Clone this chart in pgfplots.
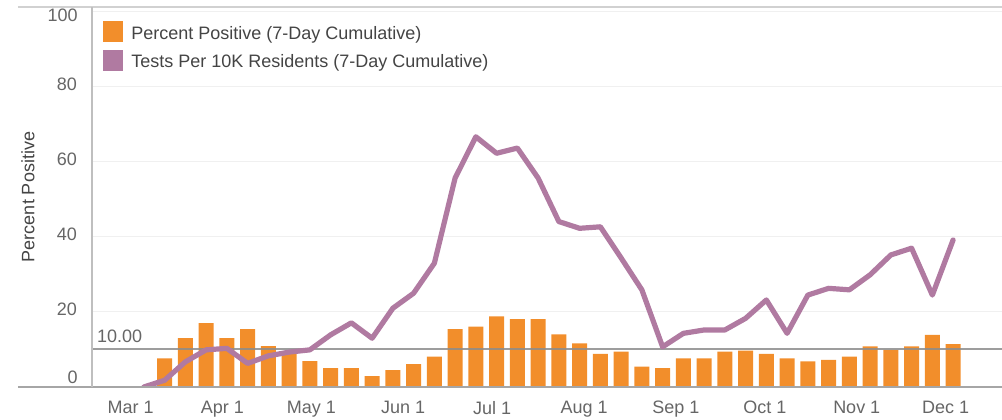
\documentclass[border=0pt]{standalone}
\usepackage{fontspec}
\setmainfont{Liberation Sans}
\usepackage{pgfplots}
\usepackage{pgfplotstable}
\pgfplotsset{compat=1.18}
\definecolor{barorange}{HTML}{F28E2B}
\definecolor{linepurple}{HTML}{B07AA1}
\definecolor{tickgray}{HTML}{666666}
\definecolor{legendgray}{HTML}{444444}

\pgfplotstableread{
day val
11.5 7.6
18.5 13.0
25.5 17.0
32.5 13.0
39.5 15.4
46.5 10.9
53.5 9.2
60.5 6.9
67.5 5.0
74.5 5.0
81.5 2.9
88.5 4.5
95.5 6.1
102.5 8.1
109.5 15.4
116.5 16.1
123.5 18.8
130.5 18.1
137.5 18.1
144.5 14.0
151.5 11.6
158.5 8.8
165.5 9.4
172.5 5.4
179.5 5.0
186.5 7.6
193.5 7.6
200.5 9.4
207.5 9.7
214.5 8.8
221.5 7.6
228.5 6.8
235.5 7.2
242.5 8.1
249.5 10.8
256.5 9.9
263.5 10.8
270.5 13.9
277.5 11.4
}\positive

\pgfplotstableread{
day val
4.5 0
11.5 1.8
18.5 6.7
25.5 9.9
32.5 10.3
39.5 6.3
46.5 8.3
53.5 9.3
60.5 9.9
67.5 13.9
74.5 17.1
81.5 13.0
88.5 21.0
95.5 25.0
102.5 33.0
109.5 55.7
116.5 66.7
123.5 62.3
130.5 63.7
137.5 55.7
144.5 44.1
151.5 42.3
158.5 42.7
165.5 34.4
172.5 25.9
179.5 10.7
186.5 14.3
193.5 15.2
200.5 15.2
207.5 18.3
214.5 23.2
221.5 14.3
228.5 24.5
235.5 26.3
242.5 25.9
249.5 29.9
256.5 35.2
263.5 37.0
270.5 24.5
277.5 39.2
}\tests

\begin{document}
\begin{tikzpicture}
\begin{axis}[
  name=ax,
  scale only axis,
  width=455pt, height=190pt,
  xmin=-13, xmax=294, ymin=0, ymax=101.3,
  clip mode=individual,
  axis line style={draw=none},
  xtick={0,31,61,92,122,153,184,214,245,275},
  xticklabels={Mar 1,Apr 1,May 1,Jun 1,Jul 1,Aug 1,Sep 1,Oct 1,Nov 1,Dec 1},
  ytick={0,20,40,60,80,100},
  yticklabels={,20,40,60,80,},
  major tick length=0pt,
  ymajorgrids,
  grid style={color=black!6, line width=0.5pt},
  tick label style={font=\fontsize{9}{10}\selectfont, text=tickgray},
  xticklabel style={yshift=-3.5pt},
  yticklabel style={xshift=-4pt, yshift=1.5pt},
  /pgf/number format/assume math mode=true,
  ylabel={Percent Positive},
  ylabel style={at={(axis description cs:-0.0703,0.5)}, anchor=center, rotate=0, font=\fontsize{9}{10}\selectfont, text=legendgray},
  legend style={at={(axis description cs:0,1)}, anchor=north west, xshift=5.5pt, yshift=-7pt,
    draw=none, fill=none, font=\fontsize{9}{10}\selectfont, text=legendgray, row sep=2pt,
    inner sep=0pt, /tikz/every odd column/.append style={column sep=2pt}},
  legend cell align=left,
]
\addplot[ybar, bar width=7.5pt, fill=barorange, draw=none,
  legend image code/.code={\path[fill=barorange, draw=none] (0pt,-4pt) rectangle (10pt,6.3pt);}]
  table[x=day, y=val] {\positive};
\addlegendentry{Percent Positive (7-Day Cumulative)}
\addplot[color=black!45, line width=1pt, opacity=0.85, forget plot] coordinates {(-13,10) (294,10)};
\addplot[color=linepurple, line width=2.6pt, line join=round, line cap=round,
  legend image code/.code={\path[fill=linepurple, draw=none] (0pt,-4pt) rectangle (10pt,6.3pt);}]
  table[x=day, y=val] {\tests};
\addlegendentry{Tests Per 10K Residents (7-Day Cumulative)}
\node[anchor=south west, inner sep=0pt, xshift=2.3pt, yshift=3pt, font=\fontsize{9}{10}\selectfont, text=tickgray] at (axis cs:-13,10) {10.00};
\node[anchor=east, inner sep=0pt, xshift=-7pt, yshift=5pt, font=\fontsize{9}{10}\selectfont, text=tickgray] at (axis cs:-13,0) {0};
\node[anchor=east, inner sep=0pt, xshift=-7pt, yshift=-1.5pt, font=\fontsize{9}{10}\selectfont, text=tickgray] at (axis cs:-13,100) {100};
\end{axis}
\draw[color=black!35, line width=0.75pt] ([xshift=-37pt]ax.south west) -- (ax.south east);
\draw[color=black!18, line width=0.75pt] ([xshift=-37pt]ax.north west) -- (ax.north east);
\draw[color=black!25, line width=0.75pt] (ax.south west) -- (ax.north west);
\pgfresetboundingbox
\path[use as bounding box] ([xshift=-46pt,yshift=-16.5pt]ax.south west) rectangle ([yshift=3.5pt]ax.north east);
\end{tikzpicture}
\end{document}
